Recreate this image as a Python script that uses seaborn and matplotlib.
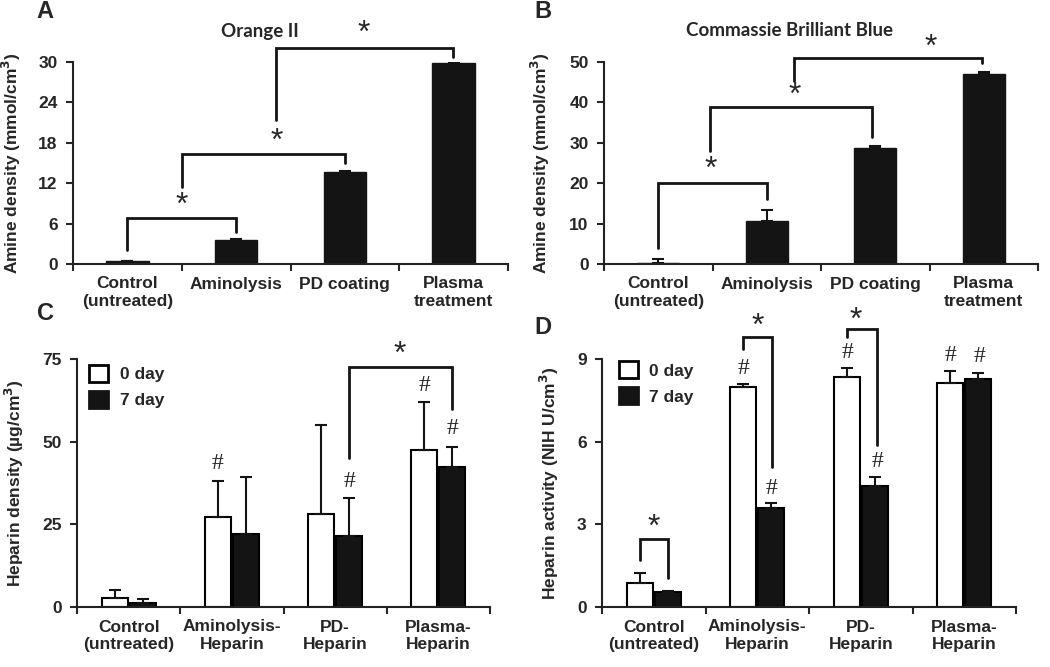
import numpy as np
import pandas as pd
import matplotlib
matplotlib.use("Agg")
import matplotlib.pyplot as plt
from matplotlib.patches import Patch
import seaborn as sns

# data
top_cats = ["Control\n(untreated)", "Aminolysis", "PD coating", "Plasma\ntreatment"]
orange_vals = [0.4, 3.6, 13.6, 29.8]
orange_err = [0.05, 0.15, 0.2, 0.15]
cbb_vals = [0.2, 10.6, 28.6, 47.0]
cbb_err = [1.0, 2.8, 0.6, 0.5]

bot_cats = ["Control\n(untreated)", "Aminolysis-\nHeparin", "PD-\nHeparin", "Plasma-\nHeparin"]
days = ["0 day", "7 day"]
density_0 = [2.8, 27.3, 28.2, 47.5]
density_0_err = [2.3, 10.9, 26.8, 14.6]
density_7 = [1.3, 22.0, 21.5, 42.4]
density_7_err = [1.0, 17.4, 11.4, 5.9]
activity_0 = [0.86, 7.97, 8.36, 8.14]
activity_0_err = [0.38, 0.12, 0.30, 0.41]
activity_7 = [0.53, 3.58, 4.39, 8.26]
activity_7_err = [0.04, 0.18, 0.34, 0.23]

sns.set_style("ticks")
plt.rcParams["font.family"] = ["Liberation Sans", "DejaVu Sans"]
plt.rcParams["font.weight"] = "bold"
plt.rcParams["axes.labelweight"] = "bold"

BLACK = "#141414"
W, H = 1050, 667
fig = plt.figure(figsize=(10.5, 6.67), dpi=100)


def px_axes(l, r, t, b):
    return fig.add_axes([l / W, 1 - b / H, (r - l) / W, (b - t) / H])


def style(ax, cats, ymax, step, ylabel, labx):
    ax.set_xlim(-0.5, 3.5)
    ax.set_ylim(0, ymax)
    ax.set_yticks(np.arange(0, ymax + 0.01, step))
    ax.set_xticks(range(4))
    ax.set_xticklabels(cats, fontsize=12.5, fontweight="bold")
    ax.set_xticks([-0.5, 0.5, 1.5, 2.5, 3.5], minor=True)
    ax.tick_params(axis="x", which="major", length=0, pad=9)
    ax.tick_params(axis="x", which="minor", length=5, width=1.5, direction="out")
    ax.tick_params(axis="y", length=5, width=1.5, pad=6, labelsize=12.5)
    for t in ax.get_yticklabels():
        t.set_fontweight("bold")
    for s in ["left", "bottom"]:
        ax.spines[s].set_linewidth(1.5)
        ax.spines[s].set_color("#222222")
    sns.despine(ax=ax)
    ax.set_xlabel("")
    ax.set_ylabel(ylabel, fontsize=12.5, fontweight="bold")
    ax.yaxis.set_label_coords(labx, 0.5)


def bracket(ax, x1, y1, x2, y2, ytop, sx, sy):
    ax.plot([x1, x1, x2, x2], [y1, ytop, ytop, y2], color=BLACK, lw=2.0,
            clip_on=False, solid_joinstyle="miter")
    ax.text(sx, sy, "*", ha="center", va="center", fontsize=23,
            fontweight="normal", clip_on=False)


def hashes(ax, pts):
    for x, y in pts:
        ax.text(x, y, "#", ha="center", va="center", fontsize=17,
                fontweight="normal", family="Liberation Serif", clip_on=False)


def single_panel(ax, vals, errs):
    sns.barplot(x=top_cats, y=vals, color=BLACK, width=0.39, ax=ax,
                saturation=1, edgecolor=BLACK, linewidth=1)
    ax.errorbar(range(4), vals, yerr=[np.zeros(4), errs], fmt="none",
                ecolor=BLACK, elinewidth=1.5, capsize=4, capthick=1.5)


def grouped_panel(ax, v0, e0, v7, e7):
    df = pd.DataFrame({
        "group": bot_cats * 2,
        "day": [days[0]] * 4 + [days[1]] * 4,
        "value": v0 + v7,
    })
    sns.barplot(data=df, x="group", y="value", hue="day", hue_order=days,
                palette=["white", BLACK], width=0.54, gap=0.07, ax=ax,
                saturation=1, edgecolor="black", linewidth=1.5, legend=False)
    for cont, errs in zip(ax.containers, [e0, e7]):
        xs = [p.get_x() + p.get_width() / 2 for p in cont.patches]
        ys = [p.get_height() for p in cont.patches]
        ax.errorbar(xs, ys, yerr=[np.zeros(4), errs], fmt="none",
                    ecolor=BLACK, elinewidth=1.5, capsize=4, capthick=1.5)


# A
axA = px_axes(73, 508, 62, 264)
single_panel(axA, orange_vals, orange_err)
style(axA, top_cats, 30, 6, "Amine density (mmol/cm$^3$)", -0.115)
bracket(axA, 0, 2.1, 1, 4.75, 6.8, 0.5, 8.6)
bracket(axA, 0.5, 11.4, 2, 15.0, 16.3, 1.37, 18.2)
bracket(axA, 1.37, 21.4, 2.99, 30.8, 32.1, 2.17, 34.1)

# B
axB = px_axes(604, 1038, 62, 264)
single_panel(axB, cbb_vals, cbb_err)
style(axB, top_cats, 50, 10, "Amine density (mmol/cm$^3$)", -0.12)
bracket(axB, 0, 3.9, 1, 16.1, 20.0, 0.48, 23.4)
bracket(axB, 0.48, 28.0, 1.97, 31.5, 38.9, 1.26, 41.5)
bracket(axB, 1.25, 45.4, 2.98, 49.7, 51.1, 2.51, 53.5)

# C
axC = px_axes(77, 490, 359, 607)
grouped_panel(axC, density_0, density_0_err, density_7, density_7_err)
style(axC, bot_cats, 75, 25, "Heparin density (\u00b5g/cm$^3$)", -0.123)
bracket(axC, 2.13, 45.0, 3.135, 59.9, 72.5, 2.63, 76.3)
hashes(axC, [(0.86, 43.5), (2.135, 37.9), (2.865, 67.1), (3.135, 54.0)])

# D
axD = px_axes(602, 1016, 359, 607)
grouped_panel(axD, activity_0, activity_0_err, activity_7, activity_7_err)
style(axD, bot_cats, 9, 3, "Heparin activity (NIH U/cm$^3$)", -0.1)
bracket(axD, -0.135, 1.7, 0.135, 1.04, 2.47, 0.0, 2.87)
bracket(axD, 0.865, 9.35, 1.145, 5.09, 9.79, 1.0, 10.17)
bracket(axD, 1.87, 9.81, 2.16, 5.88, 10.08, 1.95, 10.37)
hashes(axD, [(0.865, 8.66), (1.14, 4.31), (1.87, 9.23), (2.16, 5.27),
             (2.865, 9.14), (3.15, 9.08)])

for ax, anchor in [(axC, (0.03, 0.975)), (axD, (0.04, 0.99))]:
    handles = [Patch(facecolor="white", edgecolor="black", linewidth=2),
               Patch(facecolor=BLACK, edgecolor=BLACK, linewidth=2)]
    ax.legend(handles, days, loc="upper left", bbox_to_anchor=anchor,
              frameon=False, handlelength=1.1, handleheight=1.1,
              labelspacing=0.5, handletextpad=0.65, borderpad=0, borderaxespad=0,
              prop={"weight": "bold", "size": 12.5})

# titles and panel letters
fig.text(260 / W, 1 - 31 / H, "Orange II", ha="center", va="center",
         fontsize=13.5, fontweight="bold", family="Lato")
fig.text(790 / W, 1 - 31 / H, "Commassie Brilliant Blue", ha="center",
         va="center", fontsize=13.5, fontweight="bold", family="Lato")
for letter, x, y in [("A", 45, 11), ("B", 543, 11), ("C", 45, 313), ("D", 543, 327)]:
    fig.text(x / W, 1 - y / H, letter, ha="center", va="center",
             fontsize=17, fontweight="bold")

fig.savefig("out.png", dpi=100)
